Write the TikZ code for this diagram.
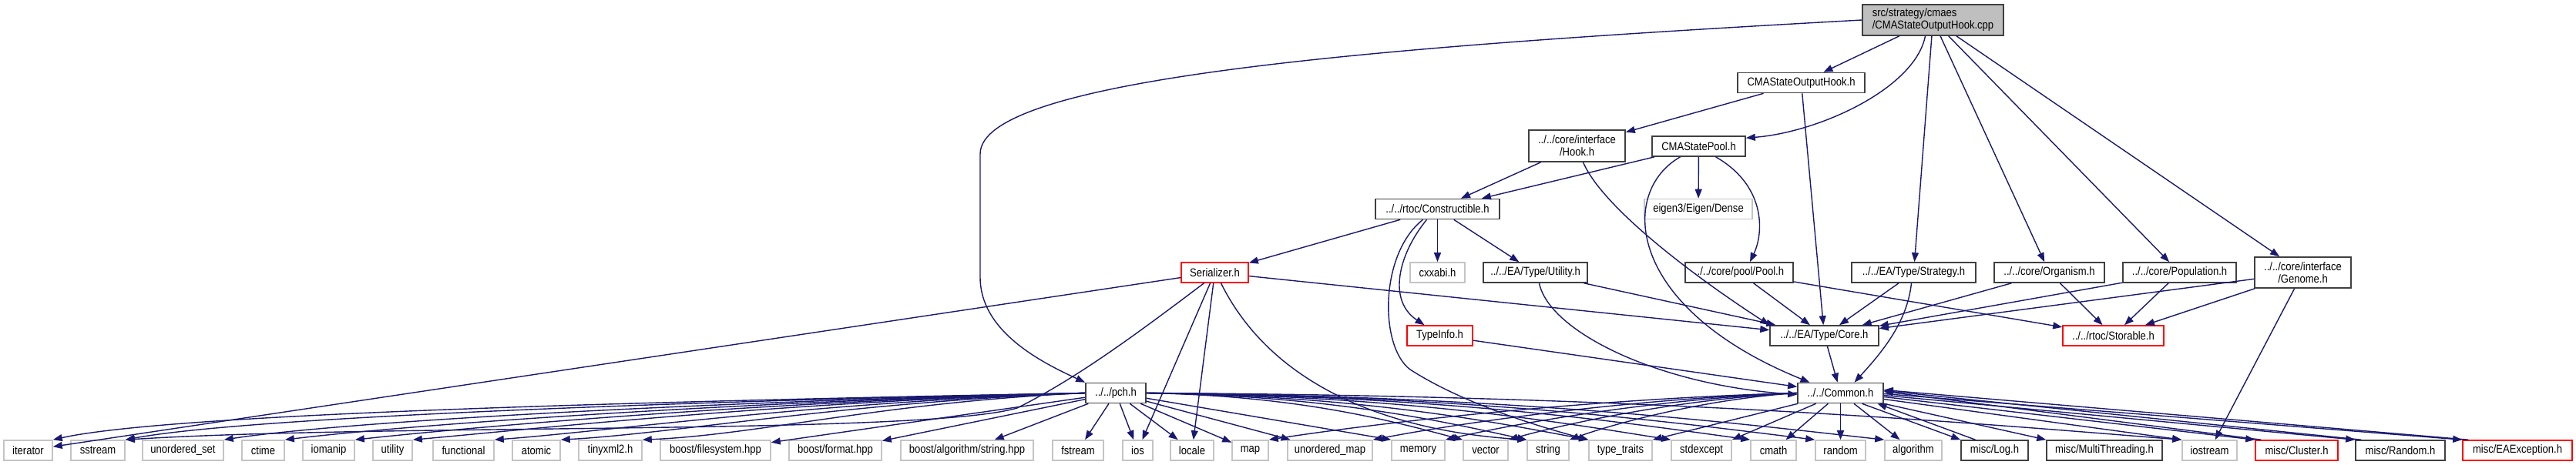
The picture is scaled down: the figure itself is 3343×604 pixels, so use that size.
\documentclass[tikz,border=0pt]{standalone}
\usepackage{fontspec}
\setmainfont{Liberation Sans}[FakeStretch=0.87]
\usetikzlibrary{arrows.meta}
\definecolor{edgeblue}{HTML}{191970}
\definecolor{boxgray}{HTML}{BFBFBF}
\definecolor{sysgray}{HTML}{C4C4C4}
\definecolor{boxdark}{HTML}{404040}
\definecolor{boxred}{HTML}{FF0000}
\begin{document}
\begin{tikzpicture}[x=1pt,y=-1pt,
  box/.style={draw=boxdark, line width=1.6pt, inner sep=0pt, minimum height=26pt,
    align=center, font=\fontsize{15}{16}\selectfont, fill=white},
  sysbox/.style={box, draw=sysgray},
  redbox/.style={box, draw=boxred},
  mainbox/.style={box, fill=boxgray, minimum height=40pt, align=left},
  twoline/.style={minimum height=41pt},
  edge/.style={draw=edgeblue, line width=1.4pt, -{Triangle[length=12pt,width=9pt]}}]
\useasboundingbox (0,0) rectangle (3343,604);

% ---------- nodes ----------
\node[mainbox, minimum width=183pt] (main) at (2508.5,26) {src/strategy/cmaes\\/CMAStateOutputHook.cpp};
\node[box, minimum width=165pt] (cmasoh) at (2337.5,107.5) {CMAStateOutputHook.h};
\node[box, twoline, minimum width=125pt] (hook) at (2046.5,189.5) {../../core/interface\\/Hook.h};
\node[box, minimum width=121pt] (pool) at (2204.5,190) {CMAStatePool.h};
\node[box, minimum width=161pt] (constr) at (1865.5,271.5) {../../rtoc/Constructible.h};
\node[sysbox, minimum width=140pt] (eigen) at (2204,271.5) {eigen3/Eigen/Dense};
\node[redbox, minimum width=87pt] (serial) at (1576.5,354) {Serializer.h};
\node[sysbox, minimum width=71pt] (cxxabi) at (1865.5,354) {cxxabi.h};
\node[box, minimum width=135pt] (util) at (1992.5,354) {../../EA/Type/Utility.h};
\node[box, minimum width=140pt] (poolh) at (2257,354) {../../core/pool/Pool.h};
\node[box, minimum width=161pt] (strat) at (2483.5,354) {../../EA/Type/Strategy.h};
\node[box, minimum width=143pt] (organ) at (2659.5,354) {../../core/Organism.h};
\node[box, minimum width=147pt] (popul) at (2828.5,354) {../../core/Population.h};
\node[box, minimum height=40pt, minimum width=125pt] (genome) at (2988.5,354) {../../core/interface\\/Genome.h};
\node[redbox, minimum width=85pt] (typeinfo) at (1868.5,436) {TypeInfo.h};
\node[box, minimum width=141pt] (core) at (2367.5,436) {../../EA/Type/Core.h};
\node[redbox, minimum width=131pt] (storable) at (2742.5,436) {../../rtoc/Storable.h};
\node[box, minimum width=78pt] (pch) at (1448,510.5) {../../pch.h};
\node[box, minimum width=111pt] (common) at (2388.5,510.5) {../../Common.h};

% bottom row
\node[sysbox, minimum width=63pt] (niter) at (36.5,585) {iterator};
\node[sysbox, minimum width=70pt] (nsstr) at (127,585) {sstream};
\node[sysbox, minimum width=105pt] (nuset) at (237.5,585) {unordered\_set};
\node[sysbox, minimum width=55pt] (nctime) at (341.5,585) {ctime};
\node[sysbox, minimum width=67pt] (niomanip) at (426.5,585) {iomanip};
\node[sysbox, minimum width=51pt] (nutility) at (509.5,585) {utility};
\node[sysbox, minimum width=79pt] (nfunc) at (601.5,585) {functional};
\node[sysbox, minimum width=62pt] (natomic) at (696,585) {atomic};
\node[sysbox, minimum width=82pt] (ntinyxml) at (792,585) {tinyxml2.h};
\node[sysbox, minimum width=143pt] (nbfs) at (928.5,585) {boost/filesystem.hpp};
\node[sysbox, minimum width=120pt] (nbfmt) at (1084,585) {boost/format.hpp};
\node[sysbox, minimum width=172pt] (nbalg) at (1255,585) {boost/algorithm/string.hpp};
\node[sysbox, minimum width=66pt] (nfstream) at (1399,585) {fstream};
\node[sysbox, minimum width=39pt] (nios) at (1476.5,585) {ios};
\node[sysbox, minimum width=56pt] (nlocale) at (1547,585) {locale};
\node[sysbox, minimum width=47pt] (nmap) at (1622.5,585) {map};
\node[sysbox, minimum width=110pt] (numap) at (1726,585) {unordered\_map};
\node[sysbox, minimum width=69pt] (nmemory) at (1840.5,585) {memory};
\node[sysbox, minimum width=58pt] (nvector) at (1928,585) {vector};
\node[sysbox, minimum width=54pt] (nstring) at (2009,585) {string};
\node[sysbox, minimum width=82pt] (nttraits) at (2103,585) {type\_traits};
\node[sysbox, minimum width=78pt] (nstdexc) at (2208,585) {stdexcept};
\node[sysbox, minimum width=59pt] (ncmath) at (2301.5,585) {cmath};
\node[sysbox, minimum width=65pt] (nrandom) at (2388.5,585) {random};
\node[sysbox, minimum width=74pt] (nalgo) at (2483,585) {algorithm};
\node[box, minimum width=87pt] (nlog) at (2588.5,585) {misc/Log.h};
\node[box, minimum width=150pt] (nmt) at (2731,585) {misc/MultiThreading.h};
\node[sysbox, minimum width=71pt] (niostream) at (2867.5,585) {iostream};
\node[redbox, minimum width=107pt] (ncluster) at (2980.5,585) {misc/Cluster.h};
\node[box, minimum width=116pt] (nrnd) at (3115,585) {misc/Random.h};
\node[redbox, minimum width=142pt] (neaexc) at (3267,585) {misc/EAException.h};

% ---------- edges ----------
% from main
\draw[edge] (main) -- (cmasoh);
\draw[edge] ([xshift=-10pt]main.south) .. controls (2485,115) and (2360,172) .. ([yshift=-3pt]pool.north east);
\draw[edge] (main.west) .. controls (1800,60) and (1272,100) .. (1272,200) -- (1272,360) .. controls (1272,430) and (1350,470) .. (pch.north west);
\draw[edge] (main) -- (strat);
\draw[edge] (main) -- (organ);
\draw[edge] (main) -- (popul);
\draw[edge] (main) -- (genome);
% CMAStateOutputHook.h
\draw[edge] (cmasoh) -- (hook);
\draw[edge] (cmasoh) -- (core);
% Hook.h
\draw[edge] (hook) -- (constr);
\draw[edge] ([xshift=8pt]hook.south) .. controls (2080,270) and (2200,360) .. (core.north west);
% CMAStatePool.h
\draw[edge] (pool) -- (constr);
\draw[edge] (pool) -- (eigen);
\draw[edge] ([xshift=22pt]pool.south) .. controls (2290,240) and (2290,300) .. ([xshift=14pt]poolh.north);
\draw[edge] ([xshift=-24pt]pool.south) .. controls (2100,250) and (2110,400) .. ([xshift=-40pt]common.north);
% Constructible.h
\draw[edge] (constr) -- (serial);
\draw[edge] (constr) -- (cxxabi);
\draw[edge] (constr) -- (util);
\draw[edge] ([xshift=-14pt]constr.south) .. controls (1815,330) and (1800,390) .. ([xshift=-20pt]typeinfo.north);
\draw[edge] ([xshift=-19pt]constr.south) .. controls (1790,330) and (1790,450) .. (1830,480) .. controls (1900,525) and (2000,555) .. (nttraits.north west);
% Serializer.h
\draw[edge] (serial) -- (core);
\draw[edge] (serial) -- (niter);
\draw[edge] ([xshift=-14pt]serial.south) .. controls (1480,430) and (1400,490) .. (1320,530) .. controls (1200,565) and (500,550) .. (nsstr.north east);
\draw[edge] (serial) -- (nios);
\draw[edge] (serial) -- (nlocale);
\draw[edge] ([xshift=8pt]serial.south) .. controls (1650,500) and (1800,560) .. (nstring.north west);
% Utility.h
\draw[edge] (util) -- (core);
\draw[edge] ([xshift=5pt]util.south) .. controls (2010,430) and (2150,500) .. ([yshift=-2pt]common.west);
% Pool.h
\draw[edge] (poolh) -- (core);
\draw[edge] (poolh) -- (storable);
% Strategy.h
\draw[edge] (strat) -- (core);
\draw[edge] ([xshift=-3pt]strat.south) .. controls (2475,420) and (2440,460) .. ([xshift=18pt]common.north);
% Organism.h, Population.h, Genome.h
\draw[edge] (organ) -- (core);
\draw[edge] (organ) -- (storable);
\draw[edge] (popul) -- (core);
\draw[edge] (popul) -- (storable);
\draw[edge] (genome) -- (core);
\draw[edge] (genome) -- (storable);
\draw[edge] (genome) -- (niostream);
% TypeInfo.h, Core.h
\draw[edge] (typeinfo) -- (common);
\draw[edge] (core) -- (common);

% pch.h to the left
\draw[edge] (pch.west) .. controls (806,522) and (218,538) .. (niter.north east);
\draw[edge] (pch.west) .. controls (848,522) and (312,543) .. (nsstr.north east);
\draw[edge] (pch.west) .. controls (905,522) and (440,548) .. (nuset.north east);
\draw[edge] (pch.west) .. controls (941,522) and (519,553) .. (nctime.north east);
\draw[edge] (pch.west) .. controls (982,522) and (610,555) .. (niomanip.north east);
\draw[edge] (pch.west) .. controls (1016,522) and (685,558) .. (nutility.north east);
\draw[edge] (pch.west) .. controls (1063,522) and (791,560) .. (nfunc.north east);
\draw[edge] (pch.west) .. controls (1102,522) and (877,563) .. (natomic.north east);
\draw[edge] (pch.west) .. controls (1150,522) and (983,565) .. (ntinyxml.north east);
\draw[edge] (pch) -- (nbfs);
\draw[edge] (pch) -- (nbfmt);
\draw[edge] (pch) -- (nbalg);
\draw[edge] (pch) -- (nfstream);
\draw[edge] (pch) -- (nios);
\draw[edge] (pch) -- (nlocale);
\draw[edge] (pch) -- (nmap);
\draw[edge] (pch) -- (numap);
\draw[edge] (pch) -- (nmemory.north west);
% pch.h to the right
\draw[edge] (pch.east) .. controls (1693,514) and (1817,550) .. (nvector.north west);
\draw[edge] (pch.east) .. controls (1734,514) and (1883,550) .. (nstring.north west);
\draw[edge] (pch.east) .. controls (1774,514) and (1947,550) .. (nttraits.north west);
\draw[edge] (pch.east) .. controls (1828,514) and (2033,550) .. (nstdexc.north west);
\draw[edge] (pch.east) .. controls (1880,514) and (2115,550) .. (ncmath.north west);
\draw[edge] (pch.east) .. controls (1921,514) and (2182,550) .. (nrandom.north west);
\draw[edge] (pch.east) .. controls (1966,514) and (2254,550) .. (nalgo.north west);
\draw[edge] (pch.east) .. controls (2160,514) and (2563,550) .. (niostream.north west);

% Common.h to the left
\draw[edge] (common.west) .. controls (2058,518) and (1783,550) .. (nmap.north east);
\draw[edge] (common.west) .. controls (2112,518) and (1891,550) .. (numap.north east);
\draw[edge] (common.west) .. controls (2150,518) and (1967,550) .. (nmemory.north east);
\draw[edge] (common.west) .. controls (2183,518) and (2032,550) .. (nvector.north east);
\draw[edge] (common.west) .. controls (2214,518) and (2095,550) .. (nstring.north east);
\draw[edge] (common) -- (nttraits.north east);
\draw[edge] (common) -- (nstdexc.north east);
\draw[edge] (common) -- (ncmath);
\draw[edge] (common) -- (nrandom);
\draw[edge] (common) -- (nalgo);
% Common.h to the right
\draw[edge] ([xshift=28pt]common.south) -- (nlog.north west);
\draw[edge] ([xshift=-25pt]nlog.north) -- ([xshift=48pt]common.south);
\draw[edge] (common.south east) -- (nmt.north west);
\draw[edge] ([yshift=-8pt]common.east) -- (niostream.north west);
\draw[edge] ([yshift=-5pt]common.east) -- (ncluster.north west);
\draw[edge] ([xshift=8pt]ncluster.north west) -- ([yshift=2pt]common.east);
\draw[edge] ([yshift=-3pt]common.east) -- (nrnd.north west);
\draw[edge] ([xshift=8pt]nrnd.north west) -- ([yshift=3pt]common.east);
\draw[edge] ([yshift=-1pt]common.east) -- (neaexc.north west);
\draw[edge] ([xshift=8pt]neaexc.north west) -- ([yshift=4pt]common.east);
\end{tikzpicture}
\end{document}
